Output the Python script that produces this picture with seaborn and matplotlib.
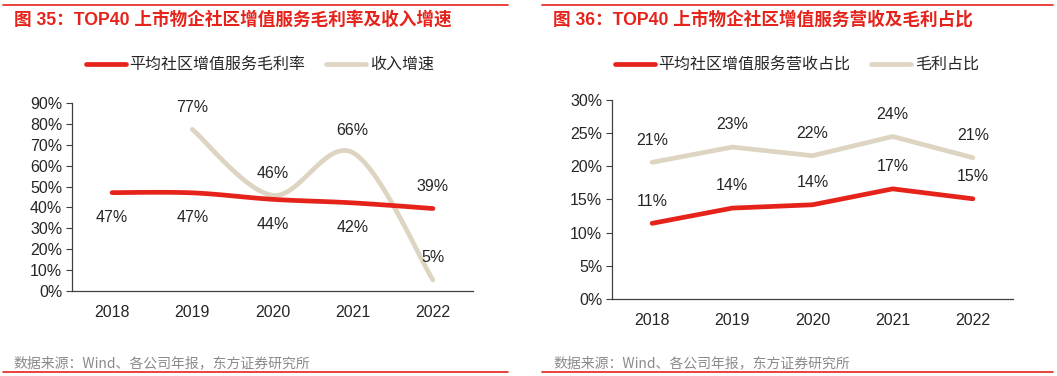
import numpy as np
import pandas as pd
import seaborn as sns
import matplotlib.pyplot as plt
from matplotlib.lines import Line2D
from matplotlib.ticker import FuncFormatter

# 数据
years = ["2018", "2019", "2020", "2021", "2022"]
margin = [47.1, 47.0, 43.9, 42.2, 39.5]          # 平均社区增值服务毛利率
growth = [np.nan, 77.4, 45.8, 66.3, 5.3]         # 收入增速
margin_labels = ["47%", "47%", "44%", "42%", "39%"]
growth_labels = ["", "77%", "46%", "66%", "5%"]

rev_share = [11.4, 13.7, 14.2, 16.6, 15.1]       # 平均社区增值服务营收占比
profit_share = [20.6, 22.9, 21.6, 24.5, 21.3]    # 毛利占比
rev_labels = ["11%", "14%", "14%", "17%", "15%"]
profit_labels = ["21%", "23%", "22%", "24%", "21%"]

RED = "#E5231B"
BEIGE = "#DDD5C1"

sns.set_style("white")
plt.rcParams["font.family"] = ["Liberation Sans", "Noto Sans CJK SC"]


def smooth(x, y, n=30):
    # Catmull-Rom 平滑 (类似 Excel 平滑线)
    x = np.asarray(x, float)
    y = np.asarray(y, float)
    px = np.concatenate([[x[0]], x, [x[-1]]])
    py = np.concatenate([[y[0]], y, [y[-1]]])
    xs, ys = [], []
    for i in range(1, len(px) - 2):
        t = np.linspace(0, 1, n)
        for arr, out in ((px, xs), (py, ys)):
            p0, p1, p2, p3 = arr[i - 1], arr[i], arr[i + 1], arr[i + 2]
            out.extend(0.5 * (2 * p1 + (-p0 + p2) * t
                              + (2 * p0 - 5 * p1 + 4 * p2 - p3) * t ** 2
                              + (-p0 + 3 * p1 - 3 * p2 + p3) * t ** 3))
    return np.array(xs), np.array(ys)


def style_axis(ax, ymax, step):
    ax.set_xlim(-0.5, 4.5)
    ax.set_ylim(0, ymax)
    ax.set_yticks(np.arange(0, ymax + 0.01, step))
    ax.yaxis.set_major_formatter(FuncFormatter(lambda v, p: f"{v:.0f}%"))
    ax.set_xticks(range(len(years)))
    ax.set_xticklabels(years)
    ax.set_xticks(np.arange(0.5, 5, 1), minor=True)
    ax.tick_params(axis="x", which="major", length=0, labelsize=11.5, pad=10)
    ax.tick_params(axis="x", which="minor", direction="in", length=4, color="#404040")
    ax.tick_params(axis="y", direction="out", length=4, labelsize=11.5, color="#404040",
                   left=True, pad=3)
    for s in ["top", "right"]:
        ax.spines[s].set_visible(False)
    for s in ["left", "bottom"]:
        ax.spines[s].set_color("#404040")
        ax.spines[s].set_linewidth(0.9)
    ax.set_xlabel("")
    ax.set_ylabel("")


fig = plt.figure(figsize=(10.57, 3.76), dpi=100)
ax1 = fig.add_axes([0.0681, 0.226, 0.3794, 0.500])
ax2 = fig.add_axes([0.5790, 0.205, 0.3794, 0.529])

xi = np.arange(len(years))

# 左图：平滑曲线
mx, my = smooth(xi, margin)
gx, gy = smooth(xi[1:], growth[1:])
sns.lineplot(x=gx, y=gy, ax=ax1, color=BEIGE, linewidth=3.4, sort=False,
             label="收入增速")
sns.lineplot(x=mx, y=my, ax=ax1, color=RED, linewidth=3.4, sort=False,
             label="平均社区增值服务毛利率")
for i, (v, t) in enumerate(zip(margin, margin_labels)):
    dy = 16 if i == 4 else -18
    ax1.annotate(t, (i, v), xytext=(0, dy), textcoords="offset points",
                 ha="center", va="center", fontsize=11.5)
for i, (v, t) in enumerate(zip(growth, growth_labels)):
    if t:
        ax1.annotate(t, (i, v), xytext=(0, 16), textcoords="offset points",
                     ha="center", va="center", fontsize=11.5)
style_axis(ax1, 90, 10)

# 右图：折线
sns.lineplot(x=xi, y=profit_share, ax=ax2, color=BEIGE, linewidth=3.4, label="毛利占比")
sns.lineplot(x=xi, y=rev_share, ax=ax2, color=RED, linewidth=3.4,
             label="平均社区增值服务营收占比")
for i in xi:
    ax2.annotate(rev_labels[i], (i, rev_share[i]), xytext=(0, 16), textcoords="offset points",
                 ha="center", va="center", fontsize=11.5)
    ax2.annotate(profit_labels[i], (i, profit_share[i]), xytext=(0, 16),
                 textcoords="offset points", ha="center", va="center", fontsize=11.5)
style_axis(ax2, 30, 5)

# 图例
for ax, c in ((ax1, 0.246), (ax2, 0.754)):
    h, l = ax.get_legend_handles_labels()
    ax.legend(h[::-1], l[::-1], loc="center", bbox_to_anchor=(c, 0.828),
              bbox_transform=fig.transFigure, ncol=2, frameon=False, fontsize=11.5,
              handlelength=2.5, handletextpad=0.25, columnspacing=1.3)

# 标题、来源与装饰线
fig.text(0.013, 0.947, "图 35：TOP40 上市物企社区增值服务毛利率及收入增速", color=RED,
         fontsize=12.7, fontweight="bold", va="center", ha="left")
fig.text(0.523, 0.947, "图 36：TOP40 上市物企社区增值服务营收及毛利占比", color=RED,
         fontsize=12.7, fontweight="bold", va="center", ha="left")
for x0 in (0.013, 0.524):
    fig.text(x0, 0.035, "数据来源：Wind、各公司年报，东方证券研究所", color="#8a8a8a",
             fontsize=10, va="center", ha="left", family=["Noto Sans CJK SC"])
for x0, x1 in ((0.003, 0.481), (0.513, 0.996)):
    fig.add_artist(Line2D([x0, x1], [0.987, 0.987], color=RED, lw=1.2))
    fig.add_artist(Line2D([x0, x1], [0.011, 0.011], color=RED, lw=1.2))

fig.savefig("out.png", dpi=100)
